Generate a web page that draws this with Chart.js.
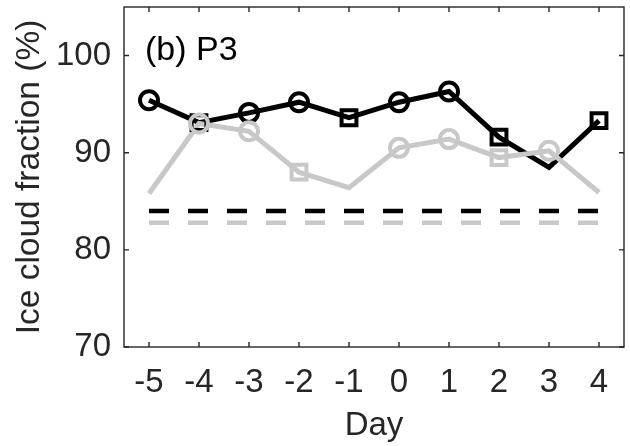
<!DOCTYPE html>
<html>
<head>
<meta charset="utf-8">
<script src="https://cdn.jsdelivr.net/npm/chart.js@4"></script>
<style>
html,body{margin:0;padding:0;background:#fff;}
#wrap{width:630px;height:446px;position:relative;}
</style>
</head>
<body>
<div id="wrap"><canvas id="c" width="630" height="446"></canvas></div>
<script>
const days = [-5, -4, -3, -2, -1, 0, 1, 2, 3, 4];
const blackVals = [95.4, 93.1, 94.1, 95.2, 93.6, 95.2, 96.3, 91.6, 88.5, 93.3];
const grayVals = [85.8, 93.0, 92.2, 88.0, 86.4, 90.5, 91.4, 89.5, 90.2, 85.9];
const blackMarkers = ['circle','rect','circle','circle','rect','circle','circle','rect','none','rect'];
const grayMarkers = ['none','circle','circle','rect','none','circle','circle','rect','circle','none'];
const blackMean = 84.0;
const grayMean = 82.8;
const xTicks = [-5, -4, -3, -2, -1, 0, 1, 2, 3, 4];
const yTicks = [70, 80, 90, 100];
const panelLabel = '(b) P3';
const xTitle = 'Day';
const yTitle = 'Ice cloud fraction (%)';

const AX = '#262626';
const GRAY = '#c8c8c8';
const FONT = '"Liberation Sans", Arial, Helvetica, sans-serif';

const pts = (vals) => days.map((d, i) => ({x: d, y: vals[i]}));
const markPts = (vals, marks, kind) => days.map((d, i) => ({x: d, y: vals[i], m: marks[i]})).filter(p => p.m === kind).map(p => ({x: p.x, y: p.y}));
const meanPts = (v) => days.map(d => ({x: d, y: v}));

const lineDs = (vals, color, order) => ({data: pts(vals), borderColor: color, borderWidth: 5, pointRadius: 0, tension: 0, order});
const markDs = (vals, marks, kind, color, order) => ({
  data: markPts(vals, marks, kind), showLine: false, pointStyle: kind,
  pointRadius: kind === 'rect' ? 10.5 : 9, pointBorderWidth: 4, pointBorderColor: color,
  pointBackgroundColor: 'rgba(0,0,0,0)', order
});

const framePlugin = {
  id: 'frame',
  afterDatasetsDraw(chart) {
    const {ctx, chartArea: a, scales} = chart;
    ctx.save();
    ctx.strokeStyle = AX;
    ctx.lineWidth = 1.4;
    ctx.strokeRect(a.left, a.top, a.right - a.left, a.bottom - a.top);
    const tl = 5;
    ctx.beginPath();
    xTicks.forEach(v => {
      const px = scales.x.getPixelForValue(v);
      ctx.moveTo(px, a.bottom); ctx.lineTo(px, a.bottom - tl);
      ctx.moveTo(px, a.top); ctx.lineTo(px, a.top + tl);
    });
    yTicks.forEach(v => {
      const py = scales.y.getPixelForValue(v);
      ctx.moveTo(a.left, py); ctx.lineTo(a.left + tl, py);
      ctx.moveTo(a.right, py); ctx.lineTo(a.right - tl, py);
    });
    ctx.stroke();
    ctx.fillStyle = '#000';
    ctx.font = '34px ' + FONT;
    ctx.textBaseline = 'alphabetic';
    ctx.textAlign = 'left';
    ctx.fillText(panelLabel, a.left + 21, a.top + 53);
    ctx.restore();
  }
};

new Chart(document.getElementById('c'), {
  type: 'line',
  data: {
    datasets: [
      markDs(grayVals, grayMarkers, 'circle', GRAY, 0),
      markDs(blackVals, blackMarkers, 'rect', '#000', 1),
      markDs(grayVals, grayMarkers, 'rect', GRAY, 2),
      markDs(blackVals, blackMarkers, 'circle', '#000', 3),
      lineDs(grayVals, GRAY, 4),
      lineDs(blackVals, '#000', 5),
      {data: meanPts(blackMean), borderColor: '#000', borderWidth: 4.5, borderDash: [20, 19],
       pointRadius: 0, tension: 0, order: 6},
      {data: meanPts(grayMean), borderColor: GRAY, borderWidth: 4.5, borderDash: [20, 19],
       pointRadius: 0, tension: 0, order: 7}
    ]
  },
  options: {
    responsive: false,
    animation: false,
    devicePixelRatio: 1,
    layout: {autoPadding: false, padding: {top: 7, right: 6, left: 0, bottom: 0}},
    plugins: {legend: {display: false}, tooltip: {enabled: false}},
    scales: {
      x: {
        type: 'linear', min: -5.5, max: 4.5,
        afterBuildTicks: (s) => { s.ticks = xTicks.map(v => ({value: v})); },
        afterFit: (s) => { s.height = 99; s.paddingLeft = 0; s.paddingRight = 0; },
        grid: {drawOnChartArea: false, drawTicks: false, display: false},
        border: {display: false},
        ticks: {color: AX, font: {family: FONT, size: 33}, padding: 16, maxRotation: 0, autoSkip: false},
        title: {display: true, text: xTitle, color: AX, font: {family: FONT, size: 33}, padding: {top: 2, bottom: 0}}
      },
      y: {
        type: 'linear', min: 70, max: 105,
        afterBuildTicks: (s) => { s.ticks = yTicks.map(v => ({value: v})); },
        afterFit: (s) => { s.width = 124; s.paddingTop = 0; s.paddingBottom = 0; },
        grid: {drawOnChartArea: false, drawTicks: false, display: false},
        border: {display: false},
        ticks: {color: AX, font: {family: FONT, size: 33}, padding: 13, autoSkip: false},
        title: {display: true, text: yTitle, color: AX, font: {family: FONT, size: 33.5}, padding: {top: 10, bottom: 0}}
      }
    }
  },
  plugins: [framePlugin]
});
</script>
</body>
</html>
